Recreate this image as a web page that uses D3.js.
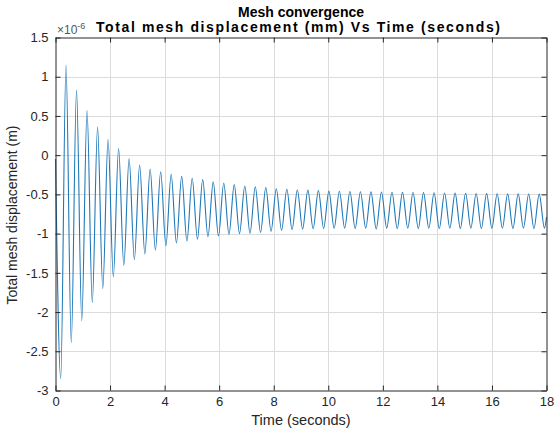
<!DOCTYPE html>
<html><head><meta charset="utf-8">
<script src="https://cdn.jsdelivr.net/npm/d3@7/dist/d3.min.js"></script>
<style>
body{margin:0;background:#fff}
text{font-family:"Liberation Sans",Arial,Helvetica,sans-serif}
</style>
</head><body>
<svg id="chart" width="556" height="431"></svg>
<script>
// ---- data ----
const chartTitle = "Mesh convergence";
const chartSubtitle = "Total mesh displacement (mm) Vs Time (seconds)";
const xAxisLabel = "Time (seconds)";
const yAxisLabel = "Total mesh displacement (m)";
const exponentLabel = "-6";
const xTickValues = [0, 2, 4, 6, 8, 10, 12, 14, 16, 18];
const yTickValues = [-3, -2.5, -2, -1.5, -1, -0.5, 0, 0.5, 1, 1.5];
const xDomain = [0, 18];
const yDomain = [-3, 1.5];

// first and last samples of the trace
const startTime = 0, startValue = -0.05;
const endTime = 18, endValue = -0.79;

// local minima (troughs) of the displacement, x1e-6 m
const troughTimes = [0.192, 0.578, 0.963, 1.349, 1.734, 2.120, 2.505, 2.891, 3.276, 3.662,
  4.047, 4.433, 4.818, 5.204, 5.589, 5.975, 6.360, 6.746, 7.131, 7.517,
  7.902, 8.288, 8.673, 9.059, 9.444, 9.830, 10.215, 10.601, 10.986, 11.372,
  11.757, 12.143, 12.528, 12.914, 13.299, 13.685, 14.070, 14.456, 14.841, 15.227,
  15.612, 15.998, 16.383, 16.769, 17.154, 17.540, 17.925];
const troughValues = [-2.85, -2.39, -2.11, -1.88, -1.70, -1.55, -1.405, -1.33, -1.26, -1.21,
  -1.155, -1.12, -1.095, -1.07, -1.04, -1.03, -1.01, -1.0, -0.995, -0.985,
  -0.97, -0.958, -0.948, -0.942, -0.938, -0.935, -0.932, -0.93, -0.935, -0.93,
  -0.94, -0.93, -0.935, -0.93, -0.935, -0.93, -0.935, -0.93, -0.935, -0.93,
  -0.935, -0.93, -0.93, -0.935, -0.93, -0.935, -0.93];

// local maxima (peaks)
const peakTimes = [0.385, 0.771, 1.156, 1.542, 1.927, 2.313, 2.698, 3.084, 3.469, 3.855,
  4.240, 4.626, 5.011, 5.397, 5.782, 6.168, 6.553, 6.939, 7.324, 7.710,
  8.095, 8.481, 8.866, 9.252, 9.637, 10.023, 10.408, 10.794, 11.179, 11.565,
  11.950, 12.336, 12.721, 13.107, 13.492, 13.878, 14.263, 14.649, 15.034, 15.420,
  15.805, 16.191, 16.576, 16.962, 17.347, 17.733];
const peakValues = [1.15, 0.83, 0.57, 0.36, 0.20, 0.085, -0.042, -0.125, -0.178, -0.211,
  -0.243, -0.27, -0.295, -0.312, -0.34, -0.355, -0.376, -0.393, -0.402, -0.414,
  -0.428, -0.435, -0.444, -0.446, -0.452, -0.458, -0.46, -0.463, -0.466, -0.468,
  -0.47, -0.472, -0.474, -0.476, -0.478, -0.48, -0.482, -0.484, -0.486, -0.488,
  -0.49, -0.492, -0.493, -0.494, -0.495, -0.496];

// ---- build series ----
const series = [[startTime, startValue]];
troughTimes.forEach((t, i) => {
  series.push([t, troughValues[i]]);
  if (i < peakTimes.length) series.push([peakTimes[i], peakValues[i]]);
});
series.push([endTime, endValue]);

// ---- layout ----
const svg = d3.select("#chart");
const L = 55.5, R = 546.5, T = 37.5, B = 390.5;
const x = d3.scaleLinear().domain(xDomain).range([L, R]);
const y = d3.scaleLinear().domain(yDomain).range([B, T]);
const ink = "#262626";

// grid
svg.append("g").selectAll("line").data(xTickValues.slice(1, -1)).join("line")
  .attr("x1", d => Math.round(x(d)) + 0.5).attr("x2", d => Math.round(x(d)) + 0.5)
  .attr("y1", T).attr("y2", B).attr("stroke", "#dcdcdc").attr("stroke-width", 1);
svg.append("g").selectAll("line").data(yTickValues.slice(1, -1)).join("line")
  .attr("y1", d => Math.round(y(d)) + 0.5).attr("y2", d => Math.round(y(d)) + 0.5)
  .attr("x1", L).attr("x2", R).attr("stroke", "#dcdcdc").attr("stroke-width", 1);

// data line
const line = d3.line().x(d => x(d[0])).y(d => y(d[1])).curve(d3.curveMonotoneX);
svg.append("path").datum(series).attr("d", line)
  .attr("fill", "none").attr("stroke", "#1f78b8").attr("stroke-width", 1.1);

// axes with inward ticks
const fmt = d => d3.format("")(d);
const xb = svg.append("g").attr("transform", `translate(0,${B})`)
  .call(d3.axisBottom(x).tickValues(xTickValues).tickSizeInner(-5).tickSizeOuter(0).tickPadding(6).tickFormat(fmt));
const xt = svg.append("g").attr("transform", `translate(0,${T})`)
  .call(d3.axisTop(x).tickValues(xTickValues).tickSizeInner(-5).tickSizeOuter(0).tickFormat(""));
const yl = svg.append("g").attr("transform", `translate(${L},0)`)
  .call(d3.axisLeft(y).tickValues(yTickValues).tickSizeInner(-5).tickSizeOuter(0).tickPadding(7)
    .tickFormat(d => d3.format("")(d).replace("−", "-")));
const yr = svg.append("g").attr("transform", `translate(${R},0)`)
  .call(d3.axisRight(y).tickValues(yTickValues).tickSizeInner(-5).tickSizeOuter(0).tickFormat(""));
[xb, xt, yl, yr].forEach(g => {
  g.select(".domain").attr("stroke", ink).attr("stroke-width", 1);
  g.selectAll(".tick line").attr("stroke", ink);
  g.selectAll("text").attr("fill", ink).style("font-size", "13px")
    .style("font-family", '"Liberation Sans",Arial,sans-serif');
});
xb.selectAll("text").attr("dy", "0.71em");

// titles
svg.append("text").attr("x", 301).attr("y", 17).attr("text-anchor", "middle")
  .style("font-size", "14px").style("font-weight", "bold").attr("fill", "#000").text(chartTitle);
svg.append("text").attr("x", 298).attr("y", 32).attr("text-anchor", "middle")
  .style("font-size", "14px").style("font-weight", "bold").attr("fill", "#000")
  .attr("textLength", 404).attr("lengthAdjust", "spacing").text(chartSubtitle);

// exponent
const ex = svg.append("text").attr("x", 57).attr("y", 34).attr("fill", "#555").style("font-size", "12px");
ex.append("tspan").text("\u00d710");
ex.append("tspan").attr("dy", -5).style("font-size", "9px").text(exponentLabel);

// axis labels
svg.append("text").attr("x", 301).attr("y", 425).attr("text-anchor", "middle")
  .style("font-size", "14.5px").attr("fill", ink).text(xAxisLabel);
svg.append("text").attr("transform", "translate(17,215) rotate(-90)").attr("text-anchor", "middle")
  .style("font-size", "14px").attr("fill", ink).text(yAxisLabel);
</script>
</body></html>
